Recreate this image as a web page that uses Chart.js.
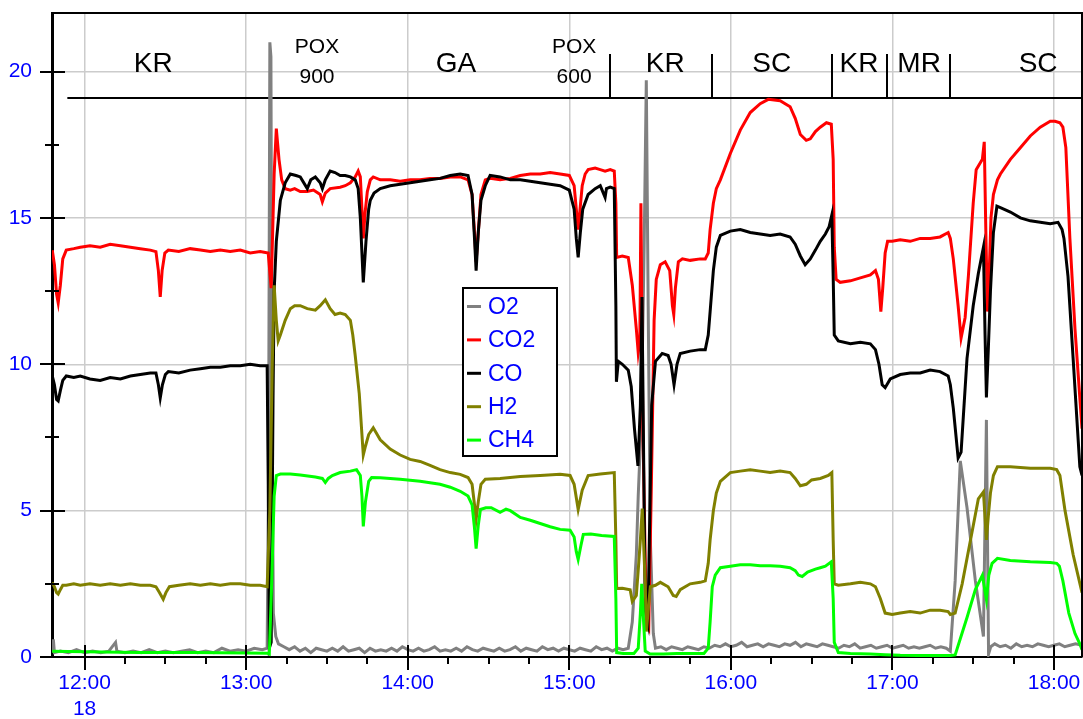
<!DOCTYPE html>
<html>
<head>
<meta charset="utf-8">
<script src="https://cdn.jsdelivr.net/npm/chart.js@4.4.0/dist/chart.umd.min.js"></script>
<style>
  body { margin: 0; background: #fff; }
  #wrap { width: 1083px; height: 719px; }
</style>
</head>
<body>
<div id="wrap"><canvas id="gasChart" width="1083" height="719"></canvas></div>
<script>
const FONT = '"Liberation Sans", Arial, Helvetica, sans-serif';

// all x values are minutes after midnight (day 18)
const o2 = [[708.0,0.15],[708.4,0.6],[708.8,0.15],[711,0.2],[714,0.15],[717,0.25],[720,0.15],[723,0.2],[726,0.15],[729,0.2],[731.5,0.5],[732,0.2],[735,0.15],[738,0.2],[741,0.15],[744,0.25],[747,0.15],[750,0.2],[753,0.15],[756,0.2],[759,0.25],[762,0.15],[765,0.2],[768,0.15],[771,0.3],[774,0.2],[777,0.25],[780,0.2],[783,0.3],[786,0.25],[787.8,0.3],[788.3,6],[788.8,21.0],[789.2,20.5],[789.6,8],[790.1,1.5],[791,0.7],[792,0.45],[794,0.35],[796,0.25],[798,0.35],[800,0.2],[802,0.3],[804,0.15],[806,0.3],[808,0.25],[810,0.2],[812,0.3],[814,0.2],[816,0.35],[818,0.2],[820,0.25],[822,0.3],[824,0.15],[826,0.3],[828,0.2],[830,0.25],[832,0.2],[834,0.3],[836,0.2],[838,0.35],[840,0.25],[842,0.2],[844,0.3],[846,0.2],[848,0.25],[850,0.35],[852,0.2],[854,0.25],[856,0.2],[858,0.3],[860,0.2],[862,0.35],[864,0.25],[866,0.2],[868,0.3],[870,0.25],[872,0.2],[874,0.3],[876,0.2],[878,0.25],[880,0.35],[882,0.2],[884,0.3],[886,0.25],[888,0.2],[890,0.35],[892,0.25],[894,0.3],[896,0.2],[898,0.3],[900,0.25],[902,0.2],[904,0.3],[906,0.25],[908,0.2],[910,0.35],[912,0.25],[914,0.3],[916,0.2],[918,0.3],[920,0.25],[921.9,0.3],[923.4,1.2],[924.9,3.5],[925.6,5.5],[926.7,8],[927.8,14],[928.6,19.7],[929.3,12],[930.1,4],[931.2,0.8],[932,0.3],[934,0.35],[936,0.25],[938,0.35],[940,0.3],[942,0.25],[944,0.35],[946,0.3],[948,0.25],[950,0.35],[952,0.3],[954,0.4],[956,0.35],[958,0.45],[960,0.35],[962,0.4],[964,0.5],[966,0.35],[968,0.4],[970,0.45],[972,0.35],[974,0.45],[976,0.4],[978,0.35],[980,0.45],[982,0.4],[984,0.5],[986,0.35],[988,0.45],[990,0.4],[992,0.35],[994,0.45],[996,0.4],[998,0.35],[1000,0.3],[1002,0.4],[1004,0.35],[1006,0.45],[1008,0.3],[1010,0.35],[1012,0.4],[1014,0.3],[1016,0.35],[1018,0.4],[1020,0.3],[1022,0.35],[1024,0.4],[1026,0.3],[1028,0.35],[1030,0.3],[1032,0.35],[1034,0.4],[1036,0.3],[1038,0.35],[1040,0.3],[1041.5,0.2],[1043.3,2.6],[1045.2,6.7],[1047.7,5.1],[1050.8,2.6],[1053.8,0.7],[1054.9,8.1],[1055.7,0.1],[1056.5,0.35],[1058,0.45],[1060,0.35],[1062,0.4],[1064,0.3],[1066,0.45],[1068,0.35],[1070,0.4],[1072,0.35],[1074,0.45],[1076,0.4],[1078,0.35],[1080,0.4],[1082,0.45],[1084,0.35],[1086,0.4],[1088,0.45],[1090.4,0.4]];

const co2 = [[708.0,13.9],[708.8,13.4],[709.6,12.4],[710.2,12.1],[711.0,12.7],[711.9,13.6],[713.2,13.9],[716,13.95],[718.4,14.0],[722,14.05],[725.8,14.0],[729.5,14.1],[733.3,14.05],[737,14.0],[740.7,13.95],[744.4,13.9],[746.5,13.85],[747.4,13.2],[748.1,12.3],[748.8,13.2],[749.8,13.8],[751.1,13.9],[755,13.85],[759.2,13.95],[763,13.9],[766.7,13.85],[770.4,13.9],[774.1,13.85],[777.8,13.9],[781.5,13.8],[785.2,13.85],[788.2,13.8],[789.3,12.6],[790.4,16.5],[791.2,18.05],[792.2,17.0],[793.2,16.3],[794.5,16.0],[796.4,15.95],[798,16.0],[800.1,15.9],[802.7,15.9],[805,15.95],[807.5,15.8],[808.3,15.55],[809.4,15.85],[811.2,16.0],[814.9,16.05],[816.8,16.1],[818.7,16.2],[820.5,16.4],[821.6,16.6],[822.4,16.4],[823.0,15.3],[823.5,14.3],[824.2,15.2],[825,15.9],[826.1,16.3],[827.2,16.4],[829.8,16.3],[833.5,16.3],[837.2,16.25],[840.9,16.3],[844.6,16.3],[848.3,16.35],[852,16.35],[855.8,16.4],[859.5,16.4],[862.4,16.3],[863.9,15.8],[864.8,14.5],[865.4,13.5],[866.2,14.5],[867.2,15.8],[868.8,16.3],[870.6,16.35],[874.3,16.3],[878.1,16.35],[881.8,16.45],[885.5,16.5],[889.2,16.5],[892.9,16.55],[896.6,16.5],[900,16.45],[901.8,16.1],[902.6,15.3],[903.3,14.6],[904.1,15.4],[904.8,16.1],[905.9,16.5],[907,16.65],[909.6,16.7],[911.5,16.65],[913.3,16.6],[915.2,16.65],[916.7,16.6],[917.3,15.5],[917.6,13.65],[919.7,13.7],[921.9,13.65],[923.4,12.7],[924.9,11.2],[925.6,10.4],[926.2,10.8],[926.6,15.5],[927.3,8],[928.6,1.2],[929.5,1.0],[930.5,6],[931.5,11.5],[932.3,12.9],[933.8,13.4],[935.6,13.5],[937.3,13.2],[938.3,12.0],[938.8,11.7],[939.4,12.6],[940.5,13.5],[942,13.6],[944.9,13.55],[948.6,13.6],[950.5,13.6],[951.6,13.8],[952.3,14.6],[953.5,15.5],[954.6,16.0],[956.1,16.3],[959.8,17.2],[963.5,18.0],[967.2,18.6],[970.9,18.9],[973.9,19.05],[978.3,19.0],[982,18.8],[983.9,18.4],[985.8,17.85],[988,17.65],[989.5,17.7],[991.4,17.95],[993.2,18.1],[995.5,18.25],[997.3,18.2],[998,17],[998.4,14],[999.1,12.9],[1000.6,12.8],[1004.4,12.85],[1008.1,12.95],[1011.8,13.05],[1013.7,13.2],[1014.8,12.9],[1015.7,11.8],[1016.4,12.6],[1017.3,13.8],[1018.2,14.2],[1019.9,14.2],[1022.9,14.25],[1026.6,14.2],[1030.3,14.3],[1034,14.3],[1037.7,14.35],[1040.7,14.5],[1041.5,14.3],[1042.6,13.6],[1044.4,12.0],[1045.5,10.9],[1047,11.6],[1048.2,13.0],[1050,15.5],[1051.1,16.65],[1053.4,17.0],[1054.1,17.6],[1054.7,14.5],[1055.3,11.8],[1055.9,13.0],[1056.6,15.0],[1057.5,15.8],[1059,16.3],[1060.1,16.5],[1063.8,17.0],[1067.5,17.4],[1071.2,17.8],[1074.9,18.1],[1078.6,18.3],[1080.4,18.3],[1082.2,18.25],[1083.3,18.1],[1084.4,17.4],[1085.9,14.3],[1087.8,11.2],[1090.4,7.8]];

const co = [[708,9.6],[708.8,9.3],[709.6,8.8],[710.2,8.75],[711,9.1],[711.9,9.45],[713.2,9.6],[716,9.55],[718.4,9.6],[722,9.5],[725.8,9.45],[729.5,9.55],[733.3,9.5],[737,9.6],[740.7,9.65],[744.4,9.7],[746.5,9.7],[747.4,9.3],[748.1,8.85],[748.9,9.3],[750,9.65],[751.1,9.75],[755,9.7],[759.2,9.8],[763,9.85],[766.7,9.9],[770.4,9.9],[774.1,9.95],[777.8,9.95],[781.5,10.0],[785.2,9.95],[787.8,9.95],[788.3,5],[788.6,0.3],[789.3,0.5],[790,9],[790.4,12.5],[791.2,14.2],[792.7,15.6],[794.5,16.2],[796.4,16.5],[798.5,16.45],[800.1,16.4],[802.7,16.0],[804,16.3],[805.7,16.4],[807.5,16.2],[808.3,16.0],[809.4,16.3],[811.2,16.6],[813,16.55],[814.9,16.45],[816.8,16.45],[818.7,16.4],[820.5,16.3],[821.6,16.0],[822.4,15.0],[823.5,12.8],[824.5,14.2],[825.5,15.3],[826.1,15.6],[827.5,15.85],[829.8,16.0],[833.5,16.1],[837.2,16.15],[840.9,16.2],[844.6,16.25],[848.3,16.3],[852,16.35],[855.8,16.45],[859.5,16.5],[862.4,16.45],[863.9,15.8],[864.8,14.3],[865.4,13.2],[866.2,14.5],[867.2,15.6],[868.8,16.1],[870.6,16.45],[874.3,16.4],[878.1,16.3],[881.8,16.3],[885.5,16.25],[889.2,16.2],[892.9,16.15],[896.6,16.1],[900,15.95],[901.8,15.3],[902.6,14.3],[903.3,13.65],[904.1,14.5],[905,15.3],[907,15.8],[909.6,16.0],[911.5,16.1],[913.3,15.7],[913.8,16.0],[915.2,16.05],[916.7,16.0],[917.3,12],[917.5,9.4],[918.2,10.1],[919.7,10.0],[921.9,9.8],[923,9.24],[924.2,7.8],[925.5,6.53],[926.4,8.6],[927.0,12.3],[928.2,1.6],[929.2,1.16],[930.6,8.6],[932,10.1],[934.5,10.37],[936.7,10.3],[937.8,10.0],[938.9,9.3],[940,10.0],[941.2,10.37],[944.9,10.45],[948.6,10.5],[950.5,10.5],[951.6,11.0],[952.3,11.8],[953.5,13.2],[954.6,14.0],[956.1,14.4],[959.8,14.55],[963.5,14.6],[967.2,14.5],[970.9,14.45],[974.6,14.4],[978.3,14.45],[982,14.35],[983.9,14.1],[985.8,13.7],[987.6,13.4],[989.5,13.6],[991.4,13.9],[993.2,14.2],[995.1,14.45],[996.5,14.7],[997.5,15.1],[998,13],[998.4,11],[999.9,10.8],[1004.4,10.7],[1008.1,10.75],[1011.8,10.7],[1013.7,10.5],[1015,10.0],[1016.2,9.3],[1017.3,9.2],[1019.2,9.5],[1022.9,9.65],[1026.6,9.7],[1030.3,9.7],[1034,9.8],[1037.7,9.75],[1040.7,9.6],[1041.5,9.3],[1042.6,8.5],[1044.4,6.8],[1045.5,7.0],[1047.7,10.2],[1050,12.0],[1051.9,13.1],[1053.8,14.0],[1054.4,11],[1054.9,8.87],[1055.6,10.5],[1056.4,12.5],[1057.5,14.5],[1058.8,15.4],[1060.1,15.35],[1063.8,15.2],[1067.5,15.0],[1071.2,14.9],[1074.9,14.85],[1078.6,14.8],[1081.5,14.85],[1083.0,14.6],[1083.7,14.3],[1085.2,13.0],[1087.1,10.2],[1089.6,6.5],[1090.4,6.2]];

const h2 = [[708,2.55],[708.8,2.4],[709.6,2.2],[710.2,2.15],[711,2.3],[711.9,2.45],[713.2,2.45],[716,2.5],[718.4,2.45],[722,2.5],[725.8,2.45],[729.5,2.5],[733.3,2.45],[737,2.5],[740.7,2.45],[744.4,2.45],[746.5,2.4],[747.8,2.2],[749.2,1.97],[750.2,2.2],[751.5,2.4],[755,2.45],[759.2,2.5],[763,2.45],[766.7,2.5],[770.4,2.45],[774.1,2.5],[777.8,2.5],[781.5,2.45],[785.2,2.45],[787.8,2.4],[788.8,5],[789.7,10],[790.4,12.7],[791.2,11.5],[791.9,10.8],[792.7,11.0],[794.5,11.5],[796.4,11.9],[798,12.0],[800.1,12.0],[802.7,11.9],[805.7,11.85],[807.5,12.0],[809.4,12.2],[811.2,11.9],[813,11.7],[814.9,11.75],[816.8,11.7],[818.7,11.5],[819.6,11.0],[820.5,10.3],[822,9.0],[823.5,6.9],[824.3,7.2],[825.5,7.6],[827.2,7.83],[829.8,7.42],[833.5,7.1],[837.2,6.9],[840.9,6.75],[844.6,6.68],[848.3,6.55],[852,6.4],[855.8,6.3],[859.5,6.24],[862.4,6.13],[863.9,5.9],[864.8,5.2],[865.4,4.7],[866.2,5.3],[867.2,5.9],[868.8,6.07],[874.3,6.1],[881.8,6.17],[889.2,6.2],[896.6,6.24],[900.3,6.2],[901.8,5.9],[903.3,5.04],[904.8,5.7],[907,6.2],[911.5,6.25],[916.7,6.3],[917.3,4],[917.6,2.34],[919.7,2.35],[922.6,2.3],[923.4,1.9],[924.9,2.1],[925.6,2.97],[926.4,4],[927.1,5.07],[928.2,2.5],[928.6,0.87],[930.1,2.4],[932,2.45],[933.8,2.55],[936.7,2.4],[938.6,2.1],[939.7,2.07],[941.2,2.3],[944.9,2.5],[948.6,2.55],[950.5,2.6],[951.6,3.2],[952.3,4.0],[953.5,5.0],[954.6,5.6],[956.1,6.0],[959.8,6.3],[963.5,6.35],[967.2,6.4],[970.9,6.35],[974.6,6.3],[978.3,6.35],[982,6.3],[983.9,6.1],[985.8,5.85],[988,5.9],[990,6.05],[993.2,6.1],[996.2,6.2],[997.5,6.3],[998,4],[998.4,2.5],[999.9,2.45],[1004.4,2.5],[1008.1,2.55],[1011.8,2.5],[1013.7,2.4],[1015.5,2.0],[1017.3,1.5],[1019.9,1.45],[1022.9,1.5],[1026.6,1.55],[1030.3,1.5],[1034,1.6],[1037.7,1.6],[1040.7,1.55],[1041.5,1.45],[1043.3,1.5],[1045.9,2.5],[1049,4.0],[1051.9,5.4],[1053.8,5.64],[1054.9,4.0],[1055.6,4.8],[1056.4,5.6],[1057.5,6.2],[1059,6.5],[1063.8,6.5],[1071.2,6.45],[1078.6,6.45],[1081,6.4],[1082.2,6.2],[1084.1,5.0],[1087.1,3.5],[1090.4,2.2]];

const ch4 = [[708,0.2],[720,0.18],[740,0.15],[760,0.15],[780,0.14],[787.8,0.13],[788.6,0.1],[789.3,2],[790.4,5.5],[791.2,6.2],[792.7,6.25],[796.4,6.25],[800.1,6.22],[805.7,6.15],[808.3,6.1],[809.4,5.96],[810.5,6.1],[812,6.2],[814.9,6.3],[818.7,6.35],[821,6.4],[822.4,6.2],[823,5.5],[823.5,4.46],[824.3,5.3],[825.5,6.0],[826.6,6.13],[829.8,6.12],[833.5,6.1],[837.2,6.07],[844.6,6.0],[852,5.9],[855.8,5.8],[859.5,5.66],[862.4,5.5],[863.9,5.2],[864.8,4.4],[865.4,3.7],[866.2,4.5],[867,5.04],[869,5.1],[871,5.1],[874.3,4.94],[876.5,5.05],[878.1,5.0],[881.8,4.77],[885.5,4.67],[889.2,4.56],[892.9,4.45],[896.6,4.36],[900.3,4.33],[901.8,4.1],[902.6,3.6],[903.3,3.33],[904.3,3.8],[905.2,4.19],[908,4.2],[912,4.15],[916.7,4.12],[917.3,2],[917.6,0.15],[920,0.12],[924,0.12],[925.6,0.3],[926.4,1.5],[926.9,2.5],[927.6,1.2],[928.2,0.2],[930,0.1],[935,0.1],[940,0.12],[945,0.12],[950,0.12],[951.6,0.3],[952.3,1.2],[953.1,2.4],[954.2,2.8],[956.1,3.05],[959.8,3.1],[963.5,3.15],[967.2,3.15],[970.9,3.12],[974.6,3.12],[978.3,3.1],[982,3.05],[983.9,2.95],[985.1,2.8],[986.5,2.75],[988.5,2.9],[991.4,3.0],[993.2,3.05],[995.1,3.1],[997.3,3.25],[998,2],[998.4,0.5],[999.9,0.15],[1004.4,0.12],[1011.8,0.1],[1017.3,0.08],[1022.9,0.06],[1030.3,0.05],[1037.7,0.05],[1041.5,0.05],[1043.3,0.07],[1047.7,1.35],[1050.8,2.3],[1053.4,2.79],[1054.9,1.97],[1055.8,2.8],[1057,3.2],[1059,3.37],[1063.8,3.3],[1071.2,3.25],[1078.6,3.23],[1081,3.2],[1082,3.1],[1083.3,2.6],[1085.5,1.5],[1087.8,0.8],[1089.6,0.45],[1090.4,0.25]];

const seriesNames = ['O2', 'CO2', 'CO', 'H2', 'CH4'];
const seriesColors = ['#808080', '#ff0000', '#000000', '#808000', '#00ff00'];

// process phases marked along the top of the plot
const phaseLineLevel = 19.1;
const phaseLineStart = 713.6;
const phaseBreaks = [915.1, 953.0, 997.5, 1017.8, 1041.4];
const phaseNames = ['KR', ['POX', '900'], 'GA', ['POX', '600'], 'KR', 'SC', 'KR', 'MR', 'SC'];
const phaseCenters = [745.5, 806.3, 857.9, 901.8, 935.6, 975.2, 1007.6, 1029.9, 1074.1];

function hhmm(v) {
    const h = Math.floor(v / 60);
    return h + ':' + String(v % 60).padStart(2, '0');
}

// chart.js reserves room for edge labels; the plot here fills the frame
function noEdgePadding(s) {
    s.paddingTop = 0;
    s.paddingBottom = 0;
    s.paddingLeft = 0;
    s.paddingRight = 0;
}

const phasePlugin = {
    id: 'phases',
    beforeDatasetsDraw(chart) {
        const {ctx, chartArea, scales: {x, y}} = chart;
        const lineY = y.getPixelForValue(phaseLineLevel);
        const topY = y.getPixelForValue(20.6);
        ctx.save();
        ctx.strokeStyle = '#000';
        ctx.lineWidth = 2;
        ctx.beginPath();
        ctx.moveTo(x.getPixelForValue(phaseLineStart), lineY);
        ctx.lineTo(chartArea.right, lineY);
        phaseBreaks.forEach(t => {
            const px = Math.round(x.getPixelForValue(t));
            ctx.moveTo(px, lineY);
            ctx.lineTo(px, topY);
        });
        ctx.stroke();

        ctx.fillStyle = '#000';
        ctx.textAlign = 'center';
        ctx.textBaseline = 'alphabetic';
        phaseNames.forEach((name, i) => {
            const px = x.getPixelForValue(phaseCenters[i]);
            if (Array.isArray(name)) {
                ctx.font = '21px ' + FONT;
                ctx.fillText(name[0], px, y.getPixelForValue(20.62));
                ctx.fillText(name[1], px, y.getPixelForValue(19.6));
            } else {
                ctx.font = '28px ' + FONT;
                ctx.fillText(name, px, y.getPixelForValue(20.0));
            }
        });
        ctx.restore();
    }
};

const framePlugin = {
    id: 'frame',
    afterDatasetsDraw(chart) {
        const {ctx, chartArea: a, scales: {x, y}} = chart;
        ctx.save();
        ctx.strokeStyle = '#000';
        ctx.lineWidth = 2;
        ctx.beginPath();
        ctx.moveTo(a.left, a.top);
        ctx.lineTo(a.right, a.top);
        ctx.lineTo(a.right, a.bottom);
        ctx.stroke();

        // major ticks cross the axis, minor ones are short
        ctx.beginPath();
        x.ticks.forEach(tk => {
            const px = Math.round(x.getPixelForValue(tk.value));
            const major = tk.value % 60 === 0;
            ctx.moveTo(px, a.bottom - (major ? 12 : 0));
            ctx.lineTo(px, a.bottom + (major ? 13 : 7));
        });
        y.ticks.forEach(tk => {
            const py = Math.round(y.getPixelForValue(tk.value));
            const major = tk.value % 5 === 0;
            ctx.moveTo(a.left - (major ? 12 : 7), py);
            ctx.lineTo(a.left + (major ? 13 : 7), py);
        });
        ctx.stroke();

        // legend box
        const lx = a.left + 411, ly = a.top + 275, lw = 94, lh = 168;
        ctx.fillStyle = '#fff';
        ctx.fillRect(lx, ly, lw, lh);
        ctx.strokeRect(lx, ly, lw, lh);
        ctx.font = '23px ' + FONT;
        ctx.textBaseline = 'middle';
        ctx.textAlign = 'left';
        chart.data.datasets.forEach((ds, i) => {
            const cy = ly + 18.5 + i * 33.4;
            ctx.strokeStyle = ds.borderColor;
            ctx.lineWidth = 3;
            ctx.beginPath();
            ctx.moveTo(lx + 4, cy);
            ctx.lineTo(lx + 18, cy);
            ctx.stroke();
            ctx.fillStyle = '#0000ff';
            ctx.fillText(ds.label, lx + 25, cy + 1);
        });
        ctx.restore();
    }
};

const allSeries = [o2, co2, co, h2, ch4];

new Chart(document.getElementById('gasChart'), {
    type: 'line',
    data: {
        datasets: allSeries.map((s, i) => ({
            label: seriesNames[i],
            data: s.map(p => ({x: p[0], y: p[1]})),
            borderColor: seriesColors[i],
            borderWidth: 3,
            pointRadius: 0,
            tension: 0,
            order: 5 - i
        }))
    },
    options: {
        responsive: false,
        animation: false,
        layout: {padding: {top: 13, right: 1, left: 0, bottom: 0}},
        plugins: {
            legend: {display: false},
            tooltip: {enabled: false}
        },
        scales: {
            x: {
                type: 'linear',
                min: 707.9,
                max: 1090.4,
                afterFit: s => { s.height = 62; noEdgePadding(s); },
                border: {color: '#000', width: 2},
                grid: {
                    drawTicks: false,
                    lineWidth: 1.5,
                    color: c => (c.tick && c.tick.value % 60 === 0) ? '#cccccc' : 'rgba(0,0,0,0)'
                },
                ticks: {
                    stepSize: 15,
                    includeBounds: false,
                    autoSkip: false,
                    maxRotation: 0,
                    padding: 14,
                    color: '#0000ff',
                    font: {family: FONT, size: 21},
                    callback: v => {
                        if (v % 60 !== 0) return '';
                        return v === 720 ? [hhmm(v), '18'] : hhmm(v);
                    }
                }
            },
            y: {
                min: 0,
                max: 22,
                afterFit: s => { s.width = 52; noEdgePadding(s); },
                border: {color: '#000', width: 3},
                grid: {
                    drawTicks: false,
                    lineWidth: 1.5,
                    color: c => (c.tick && c.tick.value % 5 === 0) ? '#cccccc' : 'rgba(0,0,0,0)'
                },
                ticks: {
                    stepSize: 2.5,
                    includeBounds: false,
                    padding: 20,
                    color: '#0000ff',
                    font: {family: FONT, size: 21},
                    callback: v => (v % 5 === 0 ? String(v) : '')
                }
            }
        }
    },
    plugins: [phasePlugin, framePlugin]
});
</script>
</body>
</html>
